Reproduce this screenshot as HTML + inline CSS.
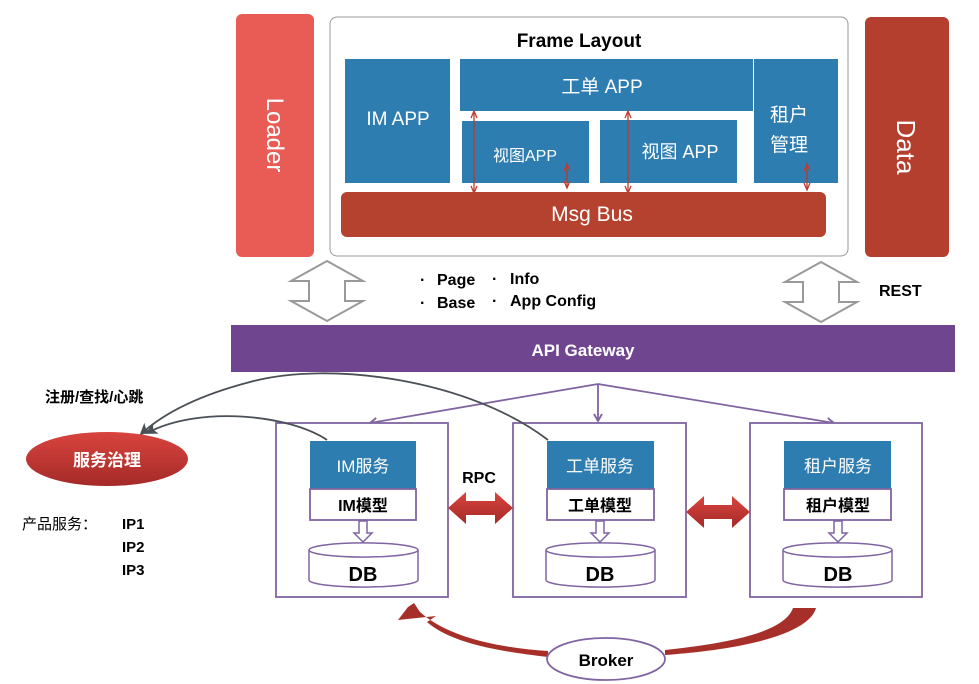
<!DOCTYPE html>
<html><head><meta charset="utf-8"><style>
html,body{margin:0;padding:0;background:#fff;}
svg{display:block;}
text{font-family:"Liberation Sans","Noto Sans CJK SC",sans-serif;}
</style></head><body>
<svg width="979" height="684" viewBox="0 0 979 684" xmlns="http://www.w3.org/2000/svg">
<defs>
<marker id="pa" markerWidth="10" markerHeight="10" refX="8" refY="5" orient="auto" markerUnits="userSpaceOnUse"><path d="M1,1 L8,5 L1,9" fill="none" stroke="#8064a2" stroke-width="1.8"/></marker>
<marker id="ga" markerWidth="14" markerHeight="12" refX="10" refY="6" orient="auto" markerUnits="userSpaceOnUse"><path d="M0,0 L12,6 L0,12 L3,6z" fill="#4a5056"/></marker>
<linearGradient id="rg" x1="0" y1="0" x2="0" y2="1"><stop offset="0" stop-color="#d9443e"/><stop offset="1" stop-color="#a42a28"/></linearGradient>
</defs>
<!-- top -->
<rect x="236" y="14" width="78" height="243" rx="6" fill="#e95c55"/>
<text x="275" y="135" font-size="24" fill="#fff" text-anchor="middle" transform="rotate(90 275 135)" dy="8">Loader</text>
<rect x="330" y="17" width="518" height="239" rx="7" fill="#fff" stroke="#999" stroke-width="1"/>
<text x="579" y="47" font-size="19" font-weight="bold" text-anchor="middle" fill="#000">Frame Layout</text>
<rect x="865" y="17" width="84" height="240" rx="6" fill="#b43f2e"/>
<text x="906" y="147" font-size="26" fill="#fff" text-anchor="middle" transform="rotate(90 906 147)" dy="9">Data</text>
<g fill="#2e7db0">
<rect x="345" y="59" width="105" height="124"/>
<rect x="460" y="59" width="293" height="52"/>
<rect x="462" y="121" width="127" height="62"/>
<rect x="600" y="120" width="137" height="63"/>
<rect x="754" y="59" width="84" height="124"/>
</g>
<g fill="#fff" font-size="19" text-anchor="middle">
<text x="398" y="125">IM APP</text>
<text x="602" y="93">工单 APP</text>
<text x="525" y="161" font-size="16">视图APP</text>
<text x="680" y="158" font-size="18">视图 APP</text>
<text x="789" y="121">租户</text>
<text x="789" y="151">管理</text>
</g>
<rect x="341" y="192" width="485" height="45" rx="6" fill="#b5412f"/>
<text x="592" y="221" font-size="21" fill="#fff" text-anchor="middle">Msg Bus</text>
<g stroke="#c0392b" stroke-width="1.3" fill="none">
<line x1="474" y1="112" x2="474" y2="192"/><path d="M471,118 L474,111 L477,118 M471,186 L474,193 L477,186"/>
<line x1="567" y1="165" x2="567" y2="187"/><path d="M564,171 L567,164 L570,171 M564,181 L567,188 L570,181"/>
<line x1="628" y1="112" x2="628" y2="192"/><path d="M625,118 L628,111 L631,118 M625,186 L628,193 L631,186"/>
<line x1="807" y1="165" x2="807" y2="189"/><path d="M804,171 L807,164 L810,171 M804,183 L807,190 L810,183"/>
</g>
<!-- hollow arrows -->
<path d="M327,261 L363,281 L345,281 L345,301 L363,301 L327,321 L291,301 L309,301 L309,281 L291,281 Z" fill="#fff" stroke="#999" stroke-width="2"/>
<path d="M821,262 L857,282 L839,282 L839,302 L857,302 L821,322 L785,302 L803,302 L803,282 L785,282 Z" fill="#fff" stroke="#999" stroke-width="2"/>
<g font-size="16" font-weight="bold" fill="#000">
<text x="420" y="285">·</text><text x="437" y="285">Page</text>
<text x="420" y="308">·</text><text x="437" y="308">Base</text>
<text x="492" y="284">·</text><text x="510" y="284">Info</text>
<text x="492" y="306">·</text><text x="510" y="306">App Config</text>
<text x="879" y="296" font-size="16">REST</text>
</g>
<rect x="231" y="325" width="724" height="47" fill="#6f4590"/>
<text x="583" y="356" font-size="17" font-weight="bold" fill="#fff" text-anchor="middle">API Gateway</text>
<!-- bottom -->
<g stroke="#8064a2" stroke-width="1.8" fill="none">
<line x1="598" y1="384" x2="370" y2="423" marker-end="url(#pa)"/>
<line x1="598" y1="384" x2="598" y2="421" marker-end="url(#pa)"/>
<line x1="598" y1="384" x2="834" y2="423" marker-end="url(#pa)"/>
</g>
<g stroke="#8064a2" stroke-width="1.8" fill="#fff">
<rect x="276" y="423" width="172" height="174"/>
<rect x="513" y="423" width="173" height="174"/>
<rect x="750" y="423" width="172" height="174"/>
</g>
<g fill="none" stroke="#4a5056" stroke-width="1.8">
<path d="M327,440 C290,415 200,405 147,433" marker-end="url(#ga)"/>
<path d="M548,440 C470,380 330,360 250,382 C200,395 165,412 141,434" marker-end="url(#ga)"/>
</g>
<g fill="#2e7db0">
<rect x="310" y="441" width="106" height="48"/>
<rect x="547" y="441" width="107" height="48"/>
<rect x="784" y="441" width="107" height="48"/>
</g>
<g fill="#fff" stroke="#8064a2" stroke-width="1.8">
<rect x="310" y="489" width="106" height="31"/>
<rect x="547" y="489" width="107" height="31"/>
<rect x="784" y="489" width="107" height="31"/>
</g>
<g fill="#fff" font-size="17" text-anchor="middle">
<text x="363" y="472">IM服务</text>
<text x="600" y="472">工单服务</text>
<text x="838" y="472">租户服务</text>
</g>
<g fill="#000" font-size="16" font-weight="bold" text-anchor="middle">
<text x="363" y="511">IM模型</text>
<text x="600" y="511">工单模型</text>
<text x="838" y="511">租户模型</text>
</g>
<g stroke="#8064a2" stroke-width="1.5" fill="#fff">
<path d="M359,521 v12 h-5 l9,9 l9,-9 h-5 v-12z"/>
<path d="M596,521 v12 h-5 l9,9 l9,-9 h-5 v-12z"/>
<path d="M834,521 v12 h-5 l9,9 l9,-9 h-5 v-12z"/>
<path d="M309,550 v30 a54,7 0 0 0 109,0 v-30 a54,7 0 0 0 -109,0z"/>
<path d="M309,550 a54,7 0 0 0 109,0"/>
<path d="M546,550 v30 a54,7 0 0 0 109,0 v-30 a54,7 0 0 0 -109,0z"/>
<path d="M546,550 a54,7 0 0 0 109,0"/>
<path d="M783,550 v30 a54,7 0 0 0 109,0 v-30 a54,7 0 0 0 -109,0z"/>
<path d="M783,550 a54,7 0 0 0 109,0"/>
</g>
<g fill="#000" font-size="20" font-weight="bold" text-anchor="middle">
<text x="363" y="581">DB</text>
<text x="600" y="581">DB</text>
<text x="838" y="581">DB</text>
</g>
<text x="479" y="483" font-size="16" font-weight="bold" text-anchor="middle">RPC</text>
<path d="M448,508 L466,492 L466,501 L495,501 L495,492 L513,508 L495,524 L495,515 L466,515 L466,524 Z" fill="url(#rg)"/>
<path d="M686,512 L704,496 L704,505 L732,505 L732,496 L750,512 L732,528 L732,519 L704,519 L704,528 Z" fill="url(#rg)"/>
<!-- service governance -->
<ellipse cx="107" cy="459" rx="81" ry="27" fill="url(#rg)"/>
<text x="107" y="466" font-size="17" font-weight="bold" fill="#fff" text-anchor="middle">服务治理</text>
<text x="45" y="402" font-size="15" font-weight="bold" fill="#000">注册/查找/心跳</text>
<text x="22" y="529" font-size="15" fill="#000">产品服务：</text>
<g font-size="15" font-weight="bold" fill="#000">
<text x="122" y="529">IP1</text><text x="122" y="552">IP2</text><text x="122" y="575">IP3</text>
</g>
<!-- broker -->
<path d="M548,657 C485,650 448,640 427,622 L436,616 L398,620 L408,607 L414,603 L420,612 C447,636 492,647 548,651Z" fill="#a63029"/>
<path d="M665,655 C760,648 810,630 816,608 L793,608 C785,630 740,642 665,650Z" fill="#a63029"/>
<ellipse cx="606" cy="659" rx="59" ry="21" fill="#fff" stroke="#8064a2" stroke-width="1.8"/>
<text x="606" y="666" font-size="17" font-weight="bold" text-anchor="middle">Broker</text>
</svg>
</body></html>
